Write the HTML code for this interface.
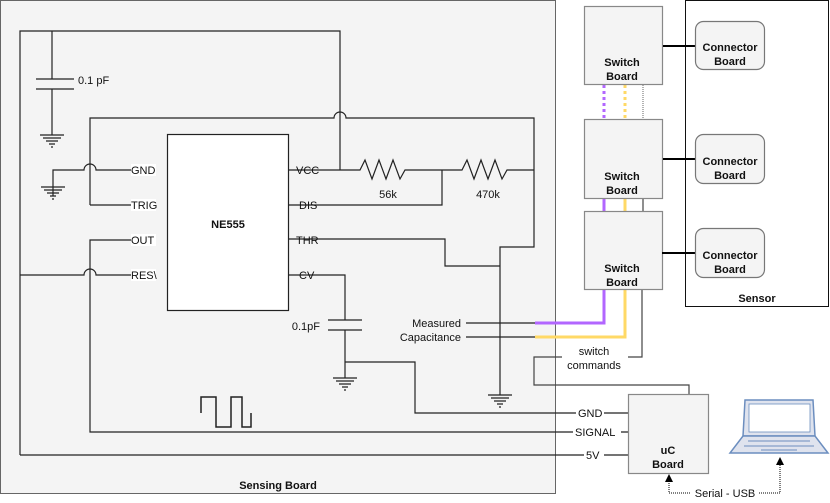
<!DOCTYPE html>
<html><head><meta charset="utf-8"><style>
html,body{margin:0;padding:0;background:#fff;width:830px;height:503px;overflow:hidden}
svg{display:block}
text{font-family:"Liberation Sans",Arial,sans-serif;font-size:11px;fill:#111}
.b{font-weight:bold}
</style></head><body>
<svg width="830" height="503" viewBox="0 0 830 503">
<defs>
<g id="gnd"><path d="M-12,0H12M-9,3H9M-6,6H6M-3,9H3M-1,12H1" stroke="#222" stroke-width="1.2" fill="none"/></g>
</defs>
<!-- sensing board -->
<rect x="0.5" y="0.5" width="555" height="493" fill="#f4f4f4" stroke="#666"/>
<text x="278" y="489" text-anchor="middle" class="b">Sensing Board</text>
<!-- sensor -->
<rect x="685.5" y="0.5" width="143" height="306" fill="#fff" stroke="#111"/>
<text x="757" y="302" text-anchor="middle" class="b">Sensor</text>
<g fill="none" stroke="#222" stroke-width="1.2">
<path d="M20,455 V31 H340 V170"/>
<path d="M52,31 V79 M36,79 H74 M36,89 H74 M52,89 V135"/>
<path d="M90,205 V118 H334 A6,6 0 0 1 346,118 H534 V247 H500 V395"/>
<path d="M53,196 V170 H84 A6,6 0 0 1 96,170 H155"/>
<path d="M90,205 H155"/>
<path d="M155,240 H90 V432 H628"/>
<path d="M20,275 H84 A6,6 0 0 1 96,275 H155"/>
<path d="M289,170 H354 L360,170 L365,160 L372,179 L379,160 L386,179 L393,160 L400,179 L405,170 H442 L462,170 L467,160 L474,179 L481,160 L488,179 L495,160 L502,179 L507,170 H534"/>
<path d="M289,205 H442 V170"/>
<path d="M289,239 H445 V266 H500"/>
<path d="M289,275 H345 V320 M328,320 H362 M328,330 H362 M345,330 V378"/>
<path d="M345,362 H415 V413 H628"/>
<path d="M20,455 H628"/>
<path d="M466,323 H535 M466,337 H535"/>
<path d="M201,413 V397 H216 V427 H231 V397 H242 V427 H251 V413" stroke-width="1.5"/>
</g>
<use href="#gnd" x="52" y="135"/>
<use href="#gnd" x="53" y="187"/>
<use href="#gnd" x="345" y="378"/>
<use href="#gnd" x="500" y="395"/>
<!-- IC -->
<rect x="167.5" y="134.5" width="121" height="176" fill="#fff" stroke="#222" stroke-width="1.2"/>
<text x="228" y="228" text-anchor="middle" class="b">NE555</text>
<g>
<rect x="131" y="164" width="25" height="12" fill="#fff"/><text x="131" y="174">GND</text>
<rect x="131" y="199" width="25" height="12" fill="#fff"/><text x="131" y="209">TRIG</text>
<rect x="131" y="234" width="25" height="12" fill="#fff"/><text x="131" y="244">OUT</text>
<rect x="131" y="269" width="25" height="12" fill="#fff"/><text x="131" y="279">RES\</text>
<text x="296" y="174">VCC</text><text x="299" y="209">DIS</text><text x="296" y="244">THR</text><text x="299" y="279">CV</text>
</g>
<text x="78" y="84">0.1 pF</text>
<text x="388" y="198" text-anchor="middle">56k</text>
<text x="488" y="198" text-anchor="middle">470k</text>
<text x="320" y="330" text-anchor="end">0.1pF</text>
<text x="461" y="327" text-anchor="end">Measured</text>
<text x="461" y="341" text-anchor="end">Capacitance</text>
<!-- colored wires -->
<path d="M535,323 H604 V290" fill="none" stroke="#b266ff" stroke-width="3"/>
<path d="M535,337 H625 V290" fill="none" stroke="#ffd966" stroke-width="3"/>
<path d="M604,199 V211" fill="none" stroke="#b266ff" stroke-width="3"/>
<path d="M625,199 V211" fill="none" stroke="#ffd966" stroke-width="3"/>
<path d="M604,85 V119" stroke="#b266ff" stroke-width="3" stroke-dasharray="3,3" fill="none"/>
<path d="M625,85 V119" stroke="#ffd966" stroke-width="3" stroke-dasharray="3,3" fill="none"/>
<path d="M643,85 V119" stroke="#666" stroke-width="1" stroke-dasharray="1,1" fill="none"/>
<path d="M643,199 V211" stroke="#444" stroke-width="1.2"/>
<path d="M642,290 V357 H628 M562,357 H534 V385 H689 V394" fill="none" stroke="#444" stroke-width="1.2"/>
<text x="594" y="355" text-anchor="middle">switch</text>
<text x="594" y="369" text-anchor="middle">commands</text>
<!-- switch boards -->
<g fill="#f4f4f4" stroke="#888" stroke-width="1.2">
<rect x="584.5" y="6.5" width="78" height="78"/>
<rect x="584.5" y="119.5" width="78" height="79"/>
<rect x="584.5" y="211.5" width="78" height="78"/>
</g>
<g text-anchor="middle">
<text x="622" y="66" class="b">Switch</text><text x="622" y="80" class="b">Board</text>
<text x="622" y="180" class="b">Switch</text><text x="622" y="194" class="b">Board</text>
<text x="622" y="272" class="b">Switch</text><text x="622" y="286" class="b">Board</text>
</g>
<g stroke="#000" stroke-width="2"><path d="M663,46H695 M663,159H695 M662,253H695"/></g>
<g fill="#f4f4f4" stroke="#777" stroke-width="1.2">
<rect x="695.5" y="21.5" width="69" height="48" rx="8"/>
<rect x="695.5" y="134.5" width="69" height="49" rx="8"/>
<rect x="695.5" y="228.5" width="69" height="49" rx="8"/>
</g>
<g text-anchor="middle">
<text x="730" y="51" class="b">Connector</text><text x="730" y="65" class="b">Board</text>
<text x="730" y="165" class="b">Connector</text><text x="730" y="179" class="b">Board</text>
<text x="730" y="259" class="b">Connector</text><text x="730" y="273" class="b">Board</text>
</g>
<!-- uC -->
<rect x="628.5" y="394.5" width="80" height="79" fill="#f4f4f4" stroke="#888" stroke-width="1.2"/>
<text x="668" y="454" text-anchor="middle" class="b">uC</text>
<text x="668" y="468" text-anchor="middle" class="b">Board</text>
<rect x="576" y="407" width="28" height="12" fill="#fff"/><text x="578" y="417">GND</text>
<rect x="573" y="426" width="48" height="12" fill="#fff"/><text x="575" y="436">SIGNAL</text>
<rect x="584" y="449" width="20" height="12" fill="#fff"/><text x="586" y="459">5V</text>
<!-- laptop -->
<path d="M745,400 H813 L815,436 H743 Z" fill="#dfe3ee" stroke="#6c8ebf" stroke-width="1.5"/>
<rect x="749" y="404" width="61" height="28" fill="#fff" stroke="#6c8ebf" stroke-width="0.8"/>
<path d="M743,436 H815 L828,453 H730 Z" fill="#dfe3ee" stroke="#6c8ebf" stroke-width="1.5"/>
<path d="M748,441 H810 M744,446 H814 M761,450 H797" stroke="#6c8ebf" stroke-width="1"/>
<!-- serial -->
<path d="M669,481 V493 H780 V464" fill="none" stroke="#000" stroke-width="1" stroke-dasharray="1,1"/>
<polygon points="665,482 673,482 669,474" fill="#000"/>
<polygon points="776,465 784,465 780,457" fill="#000"/>
<rect x="691" y="487" width="68" height="12" fill="#fff"/>
<text x="725" y="497" text-anchor="middle">Serial - USB</text>
</svg>
</body></html>
